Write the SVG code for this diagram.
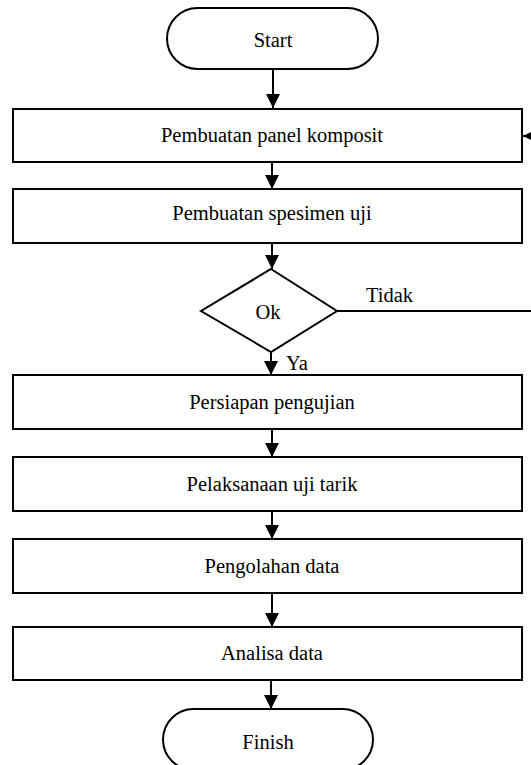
<svg xmlns="http://www.w3.org/2000/svg" width="531" height="765" viewBox="0 0 531 765">
<style>
.s{fill:#fff;stroke:#000;stroke-width:2}
.t{font-family:"Liberation Serif","Times New Roman",serif;font-size:20.5px;fill:#000;text-anchor:middle}
.tl{font-family:"Liberation Serif","Times New Roman",serif;font-size:20.5px;fill:#000}
.c{fill:none;stroke:#000;stroke-width:2}
</style>
<defs>
<marker id="a" markerUnits="userSpaceOnUse" markerWidth="15" markerHeight="15" refX="14" refY="7" orient="auto"><path d="M0,0 L14,7 L0,14 z" fill="#000"/></marker>
<marker id="b" markerUnits="userSpaceOnUse" markerWidth="11" markerHeight="11" refX="10" refY="5" orient="auto"><path d="M0,0 L10,5 L0,10 z" fill="#000"/></marker>
</defs>
<rect width="531" height="765" fill="#fff"/>
<g id="connectors">
<line class="c" x1="273" y1="69" x2="273" y2="108" marker-end="url(#a)"/>
<line class="c" x1="272" y1="162" x2="272" y2="189" marker-end="url(#a)"/>
<line class="c" x1="272" y1="243" x2="272" y2="269" marker-end="url(#a)"/>
<line class="c" x1="271" y1="352" x2="271" y2="375" marker-end="url(#a)"/>
<line class="c" x1="272" y1="429" x2="272" y2="457" marker-end="url(#a)"/>
<line class="c" x1="272" y1="511" x2="272" y2="539" marker-end="url(#a)"/>
<line class="c" x1="272" y1="593" x2="272" y2="627" marker-end="url(#a)"/>
<line class="c" x1="271" y1="680" x2="271" y2="709" marker-end="url(#a)"/>
<path class="c" d="M337,311 H545 V136 H523" marker-end="url(#b)"/>
<text class="tl" x="366" y="302">Tidak</text>
<text class="tl" x="286" y="370">Ya</text>
</g>
<g id="start"><rect class="s" x="167" y="8" width="211" height="61" rx="30.5"/><text class="t" x="273" y="47">Start</text></g>
<g id="n1"><rect class="s" x="13" y="109" width="509" height="53"/><text class="t" x="272" y="142">Pembuatan panel komposit</text></g>
<g id="n2"><rect class="s" x="13" y="189" width="509" height="54"/><text class="t" x="272" y="220">Pembuatan spesimen uji</text></g>
<g id="ok"><polygon class="s" points="271,269 337,311 271,352 201,311"/><text class="t" x="268" y="319">Ok</text></g>
<g id="n3"><rect class="s" x="13" y="375" width="509" height="54"/><text class="t" x="272" y="409">Persiapan pengujian</text></g>
<g id="n4"><rect class="s" x="13" y="457" width="509" height="54"/><text class="t" x="272" y="491">Pelaksanaan uji tarik</text></g>
<g id="n5"><rect class="s" x="13" y="539" width="509" height="54"/><text class="t" x="272" y="573">Pengolahan data</text></g>
<g id="n6"><rect class="s" x="13" y="627" width="509" height="53"/><text class="t" x="272" y="660">Analisa data</text></g>
<g id="finish"><rect class="s" x="163" y="709" width="210" height="61" rx="30.5"/><text class="t" x="268" y="749">Finish</text></g>
</svg>
